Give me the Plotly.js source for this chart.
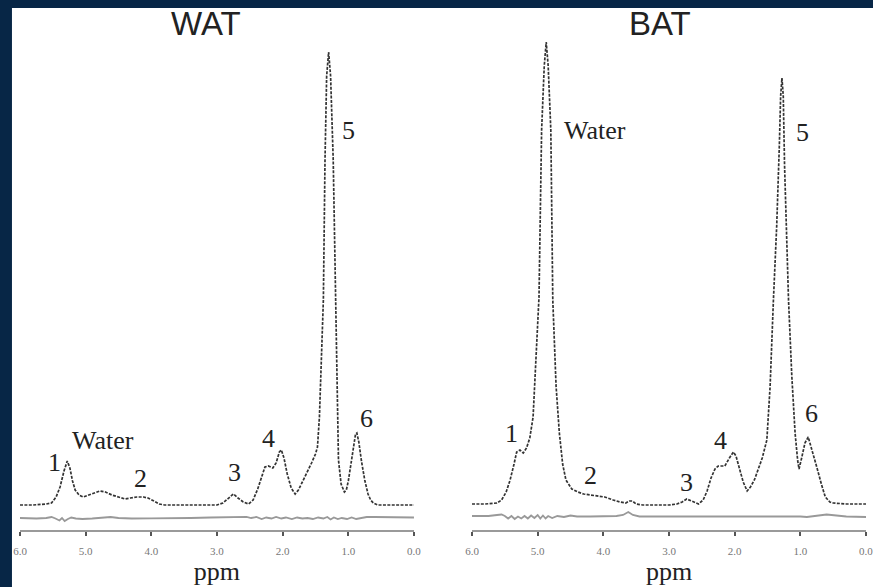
<!DOCTYPE html>
<html>
<head>
<meta charset="utf-8">
<script src="https://cdn.plot.ly/plotly-3.0.1.min.js"></script>
<style>html,body{margin:0;padding:0;background:#072646;}#chart{width:873px;height:587px;}</style>
</head>
<body>
<div id="chart"></div>
<script>
// ---- data (ppm vs signal intensity, arbitrary units) ----
const watPpm = [6.00,5.80,5.60,5.52,5.45,5.39,5.33,5.28,5.24,5.20,5.16,5.10,5.04,4.96,4.88,4.78,4.70,4.60,4.50,4.40,4.32,4.22,4.12,4.05,3.96,3.88,3.80,3.60,3.40,3.20,3.00,2.91,2.82,2.75,2.68,2.60,2.52,2.45,2.38,2.32,2.27,2.22,2.15,2.10,2.05,2.02,1.98,1.93,1.87,1.81,1.76,1.70,1.63,1.56,1.50,1.47,1.44,1.41,1.38,1.355,1.33,1.30,1.27,1.23,1.19,1.17,1.15,1.11,1.06,1.03,1.00,0.96,0.92,0.89,0.87,0.84,0.80,0.75,0.70,0.66,0.62,0.55,0.40,0.20,0.00];
const watInt = [1,1,2,3,9,19,35,45,38,25,16,11,9,11,13,15,14,11,9,7,8,9,9,8,5,2,1,1,1,1,1,3,8,12,8,4,2,6,17,30,39,40,38,43,54,56,48,32,18,12,16,24,33,43,52,59,89,139,206,346,430,454,430,346,206,106,46,22,14,16,25,42,60,72,73,64,45,26,12,6,3,1,1,1,1];

const watResPpm = [6.0,5.75,5.6,5.52,5.46,5.40,5.36,5.32,5.27,5.22,5.15,5.05,4.9,4.75,4.62,4.5,4.3,4.0,3.7,3.4,3.1,2.8,2.62,2.55,2.48,2.40,2.32,2.25,2.17,2.10,2.02,1.95,1.86,1.78,1.70,1.62,1.54,1.46,1.38,1.32,1.27,1.22,1.16,1.10,1.02,0.95,0.88,0.80,0.72,0.6,0.4,0.2,0.0];
const watRes = [-12,-12.5,-12,-11,-12.5,-14.5,-12,-15,-13,-11.5,-12.5,-13,-12.5,-12,-11,-12,-12.5,-12.3,-12.3,-12,-11.5,-11.5,-11.5,-10.8,-12,-11,-13,-11.5,-12.5,-11,-12.5,-11.5,-13,-11.5,-12.5,-12,-13,-11.5,-12.5,-11,-13.5,-11.5,-13,-12,-13,-11.5,-13,-12,-11,-11,-11,-11.5,-11.5];

const batPpm = [6.00,5.80,5.62,5.55,5.48,5.42,5.36,5.32,5.27,5.22,5.17,5.12,5.07,5.02,4.98,4.94,4.90,4.87,4.84,4.80,4.77,4.72,4.67,4.62,4.57,4.48,4.39,4.30,4.20,4.10,3.98,3.85,3.75,3.66,3.60,3.56,3.50,3.40,3.20,3.00,2.88,2.80,2.73,2.66,2.60,2.55,2.48,2.42,2.36,2.30,2.25,2.15,2.08,2.02,1.98,1.93,1.87,1.81,1.76,1.70,1.64,1.58,1.51,1.46,1.41,1.36,1.32,1.30,1.28,1.26,1.24,1.21,1.18,1.13,1.08,1.04,1.02,0.98,0.93,0.88,0.84,0.79,0.75,0.68,0.62,0.55,0.50,0.30,0.00];
const batInt = [2,2,3,6,14,26,42,54,56,53,58,68,89,150,209,376,440,464,440,376,206,120,73,42,26,17,14,12,11,10,9,6,4,3,5,5,2,1,1,1,2,4,7,5,3,2,6,15,28,37,40,40,48,54,50,38,24,15,19,26,36,48,66,120,206,280,360,410,428,410,340,260,206,130,73,45,37,48,63,69,60,50,39,22,9,4,3,2,2];

const batResPpm = [6.0,5.75,5.62,5.55,5.50,5.45,5.40,5.35,5.30,5.25,5.20,5.15,5.10,5.05,5.0,4.96,4.92,4.88,4.84,4.78,4.70,4.60,4.50,4.40,4.2,4.0,3.8,3.7,3.62,3.55,3.45,3.2,3.0,2.8,2.6,2.4,2.2,2.0,1.8,1.6,1.4,1.2,1.0,0.9,0.8,0.7,0.6,0.45,0.3,0.0];
const batRes = [-10,-10,-9,-8.5,-10,-12.5,-10,-13,-10.5,-12.5,-10,-12.5,-9.5,-12,-9,-12.5,-9.5,-12.5,-10,-12,-10,-11,-9.5,-10.5,-10.5,-10.5,-10,-9,-6,-9,-10.5,-10.5,-10.5,-10,-10.5,-10,-10.5,-10,-10.5,-10,-10.5,-10.5,-10.5,-11,-10,-9,-8.5,-9.5,-10.5,-11];

const panelTitles = ["WAT", "BAT"];
const tickVals = [6,5,4,3,2,1,0];
const tickText = ["6.0","5.0","4.0","3.0","2.0","1.0","0.0"];
const watLabels = ["1","Water","2","3","4","5","6"];
const watLabelPpm = [5.47,4.74,4.17,2.74,2.22,0.99,0.72];
const watLabelInt = [44,66,28,34,68,376,88];
const batLabels = ["1","Water","2","3","4","5","6"];
const batLabelPpm = [5.40,4.13,4.20,2.73,2.22,0.96,0.83];
const batLabelInt = [73,376,31,24,66,374,93];

// ---- styling ----
const specLine = {color:'#333333', width:1.7, dash:'3px,1.4px'};
const resLine = {color:'#999999', width:1.8};
const serif = 'Liberation Serif, Times New Roman, serif';

const traces = [
  {x:watPpm, y:watInt, type:'scatter', mode:'lines', line:specLine, xaxis:'x', yaxis:'y'},
  {x:watResPpm, y:watRes, type:'scatter', mode:'lines', line:resLine, xaxis:'x', yaxis:'y'},
  {x:batPpm, y:batInt, type:'scatter', mode:'lines', line:specLine, xaxis:'x2', yaxis:'y2'},
  {x:batResPpm, y:batRes, type:'scatter', mode:'lines', line:resLine, xaxis:'x2', yaxis:'y2'}
];

function xax(domain){
  return {domain:domain, range:[6,0], showgrid:false, zeroline:false,
    showline:true, linecolor:'#9a9a9a', linewidth:2,
    ticks:'outside', ticklen:4, tickwidth:2, tickcolor:'#555',
    tickmode:'array', tickvals:tickVals, ticktext:tickText,
    tickfont:{family:serif, size:11, color:'#777'}, ticklabelstandoff:6,
    ticklabeloverflow:'allow',
    title:{text:'ppm', font:{family:serif, size:26, color:'#222'}, standoff:3},
    fixedrange:true};
}
function yax(anchor){
  return {domain:[0,1], range:[-24,480], visible:false, anchor:anchor, fixedrange:true};
}

const annotations = [];
const titleX = [3.17, 3.14];
panelTitles.forEach((t,i)=>{
  annotations.push({text:t, xref: i===0?'x':'x2', yref:'paper', x:titleX[i], y:1.004,
    xanchor:'center', yanchor:'middle', showarrow:false,
    font:{family:'Liberation Sans, Arial, sans-serif', size:33, color:'#222'}});
});
watLabels.forEach((t,i)=>annotations.push({text:t, xref:'x', yref:'y', x:watLabelPpm[i], y:watLabelInt[i],
  xanchor:'center', yanchor:'middle', showarrow:false, font:{family:serif, size:26, color:'#222'}}));
batLabels.forEach((t,i)=>annotations.push({text:t, xref:'x2', yref:'y2', x:batLabelPpm[i], y:batLabelInt[i],
  xanchor:'center', yanchor:'middle', showarrow:false, font:{family:serif, size:26, color:'#222'}}));

const layout = {
  width:873, height:587,
  margin:{l:20, r:7, t:26, b:57},
  paper_bgcolor:'#072646', plot_bgcolor:'rgba(0,0,0,0)',
  showlegend:false, hovermode:false,
  xaxis:xax([0,0.4657]), yaxis:yax('x'),
  xaxis2:xax([0.5343,1]), yaxis2:yax('x2'),
  annotations:annotations,
  shapes:[{type:'rect', xref:'paper', yref:'paper', x0:-0.0095, x1:1.05, y0:-0.3, y1:1.0357,
    fillcolor:'#ffffff', line:{width:0}, layer:'below'}]
};

Plotly.newPlot('chart', traces, layout, {displayModeBar:false, staticPlot:true});
</script>
</body>
</html>
